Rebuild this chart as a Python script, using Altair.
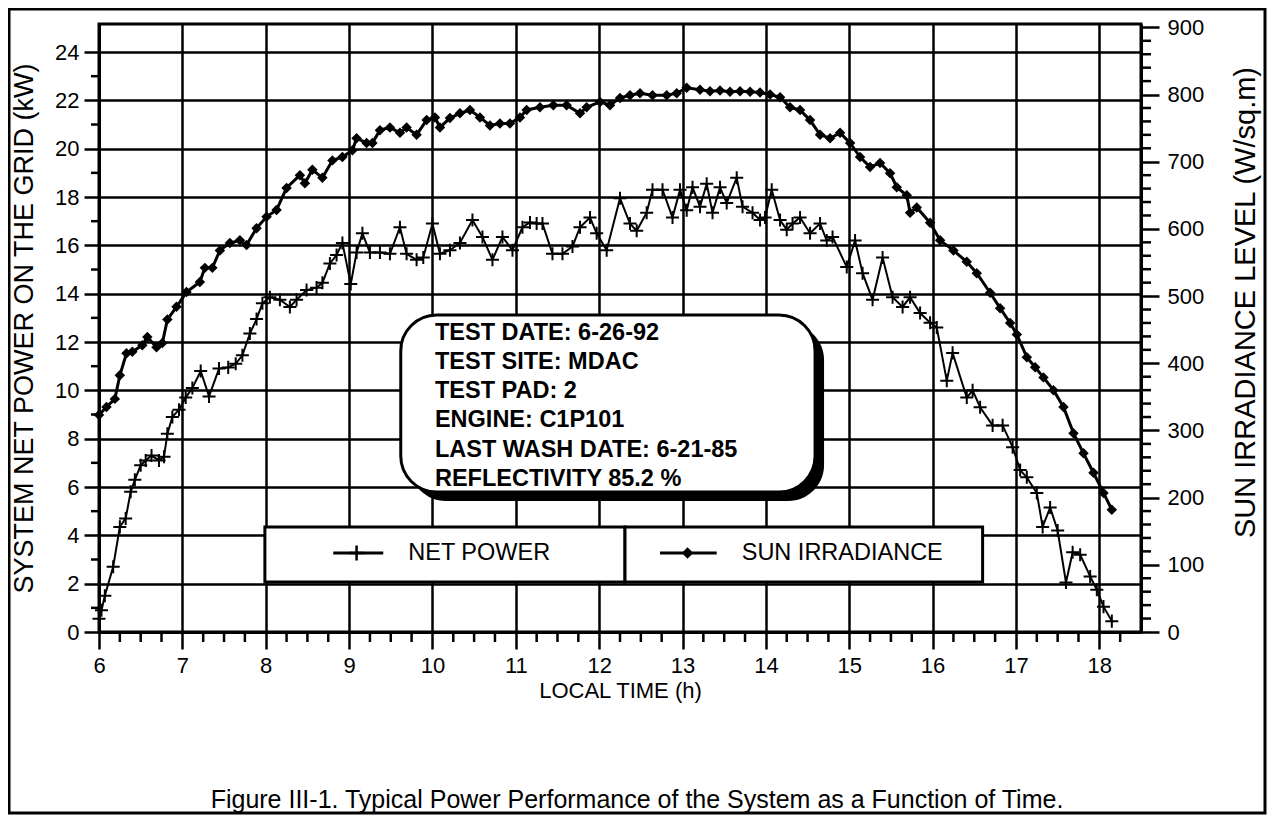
import altair as alt
import pandas as pd

# ---------------- data ----------------
np_time = [6.00, 6.03, 6.07, 6.17, 6.25, 6.32, 6.38, 6.43, 6.50, 6.56,
           6.63, 6.72, 6.78, 6.82, 6.88, 6.96, 7.04, 7.12, 7.22, 7.32,
           7.44, 7.55, 7.64, 7.72, 7.81, 7.89, 7.96, 8.05, 8.17, 8.29,
           8.37, 8.49, 8.61, 8.68, 8.77, 8.85, 8.92, 9.02, 9.09, 9.16,
           9.25, 9.37, 9.49, 9.61, 9.69, 9.81, 9.89, 10.00, 10.09, 10.21,
           10.33, 10.48, 10.60, 10.72, 10.84, 10.96, 11.08, 11.17, 11.25, 11.32,
           11.44, 11.56, 11.68, 11.77, 11.89, 11.97, 12.09, 12.25, 12.37, 12.45,
           12.57, 12.64, 12.76, 12.88, 12.97, 13.05, 13.12, 13.21, 13.29, 13.36,
           13.45, 13.53, 13.65, 13.72, 13.84, 13.93, 13.99, 14.07, 14.17, 14.25,
           14.32, 14.41, 14.53, 14.65, 14.73, 14.80, 14.97, 15.07, 15.16, 15.28,
           15.40, 15.52, 15.64, 15.73, 15.85, 15.97, 16.05, 16.17, 16.24, 16.41,
           16.48, 16.57, 16.72, 16.84, 16.96, 17.05, 17.13, 17.25, 17.32, 17.41,
           17.50, 17.60, 17.68, 17.77, 17.89, 17.97, 18.05, 18.15]
np_kw = [0.55, 0.9, 1.5, 2.7, 4.35, 4.7, 5.8, 6.3, 6.9, 7.1,
         7.3, 7.1, 7.25, 8.2, 8.9, 9.2, 9.7, 10.1, 10.8, 9.75,
         10.9, 10.95, 11.1, 11.45, 12.35, 12.95, 13.6, 13.85, 13.75, 13.45,
         13.75, 14.15, 14.25, 14.45, 15.25, 15.6, 16.1, 14.4, 15.7, 16.5,
         15.7, 15.7, 15.65, 16.75, 15.65, 15.4, 15.5, 16.9, 15.65, 15.8,
         16.1, 17.05, 16.35, 15.4, 16.35, 15.8, 16.75, 16.95, 16.9, 16.9,
         15.65, 15.65, 15.95, 16.75, 17.15, 16.5, 15.8, 17.95, 16.9, 16.6,
         17.35, 18.3, 18.3, 17.15, 18.3, 17.45, 18.4, 17.6, 18.55, 17.35,
         18.4, 17.75, 18.8, 17.6, 17.35, 17.05, 17.15, 18.3, 17.05, 16.65,
         16.9, 17.15, 16.5, 16.9, 16.2, 16.35, 15.1, 16.2, 14.85, 13.75,
         15.5, 13.85, 13.45, 13.85, 13.2, 12.8, 12.6, 10.4, 11.55, 9.7,
         10.0, 9.3, 8.55, 8.55, 7.65, 6.7, 6.4, 5.75, 4.35, 5.15,
         4.2, 2.05, 3.3, 3.2, 2.3, 1.75, 1.05, 0.45]

sun_time = [6.00, 6.09, 6.19, 6.25, 6.33, 6.40, 6.52, 6.58, 6.69, 6.76,
            6.82, 6.93, 7.05, 7.21, 7.27, 7.36, 7.45, 7.57, 7.69, 7.77,
            7.89, 8.01, 8.13, 8.25, 8.41, 8.47, 8.56, 8.68, 8.80, 8.92,
            9.04, 9.09, 9.21, 9.28, 9.37, 9.49, 9.61, 9.69, 9.81, 9.93,
            10.03, 10.09, 10.21, 10.33, 10.45, 10.57, 10.69, 10.81, 10.93, 11.05,
            11.13, 11.29, 11.45, 11.61, 11.77, 11.85, 12.01, 12.13, 12.25, 12.37,
            12.49, 12.64, 12.81, 12.93, 13.05, 13.21, 13.33, 13.45, 13.57, 13.69,
            13.81, 13.93, 14.05, 14.17, 14.29, 14.41, 14.53, 14.65, 14.77, 14.89,
            15.01, 15.13, 15.25, 15.37, 15.49, 15.57, 15.69, 15.73, 15.81, 15.97,
            16.09, 16.25, 16.41, 16.53, 16.69, 16.81, 16.93, 17.01, 17.13, 17.23,
            17.33, 17.45, 17.57, 17.69, 17.81, 17.93, 18.05, 18.15]
sun_wm2 = [323, 335, 347, 382, 415, 417, 427, 439, 424, 430,
           465, 484, 506, 521, 542, 542, 568, 579, 583, 576,
           601, 618, 628, 661, 680, 668, 688, 676, 702, 707,
           717, 735, 728, 728, 747, 751, 743, 751, 740, 762,
           766, 751, 765, 772, 777, 766, 754, 757, 757, 766,
           777, 781, 784, 784, 772, 781, 789, 784, 795, 799,
           802, 799, 799, 802, 810, 807, 805, 806, 804, 805,
           804, 803, 800, 796, 781, 777, 762, 740, 735, 743,
           728, 707, 692, 698, 683, 662, 650, 624, 632, 609,
           583, 568, 551, 534, 505, 482, 460, 443, 409, 394,
           379, 360, 335, 296, 266, 237, 207, 182]

x_ticks = list(range(6, 19))
kw_ticks = list(range(0, 25, 2))
irr_ticks = list(range(0, 901, 100))

info_lines = ["TEST DATE: 6-26-92", "TEST SITE: MDAC", "TEST PAD: 2",
              "ENGINE: C1P101", "LAST WASH DATE: 6-21-85", "REFLECTIVITY 85.2 %"]
legend_labels = ["NET POWER", "SUN IRRADIANCE"]
caption = "Figure III-1. Typical Power Performance of the System as a Function of Time."

# ---------------- layout / style ----------------
W, H = 1042, 608
FONT = "Liberation Sans"
CROSS = "M-1,0H1M0,-1V1"

X_DOM = [6, 18.5]
KW_DOM = [0, 25.16]
IRR_DOM = [0, 905]


def xs():
    return alt.Scale(domain=X_DOM, nice=False, zero=False)


def ys_kw():
    return alt.Scale(domain=KW_DOM, nice=False, zero=False)


def ys_irr():
    return alt.Scale(domain=IRR_DOM, nice=False, zero=False)


common = dict(tickColor="black", tickWidth=2.5, domainColor="black", domainWidth=3,
              labelFont=FONT, labelFontSize=22, labelColor="black",
              titleFont=FONT, titleFontWeight="normal", titleColor="black")

x_axis = alt.Axis(values=x_ticks, title="LOCAL TIME (h)", orient="bottom", grid=True,
                  gridColor="black", gridWidth=2.5, gridOpacity=1, tickSize=17,
                  labelPadding=6, titleFontSize=22, titlePadding=4, format="d",
                  labelFlush=False, **common)
kw_axis = alt.Axis(values=kw_ticks, title="SYSTEM NET POWER ON THE GRID (kW)", grid=True,
                   gridColor="black", gridWidth=2.5, gridOpacity=1, tickSize=15,
                   labelPadding=5, titleFontSize=27, titlePadding=16, format="d",
                   labelFlush=False, **common)
irr_axis = alt.Axis(values=irr_ticks, title="SUN IRRADIANCE LEVEL (W/sq.m)", orient="right",
                    grid=False, tickSize=18, labelPadding=8, titleFontSize=29,
                    titleAngle=270, titlePadding=57, titleY=278, format="d",
                    labelFlush=False, **common)


def X(f, ax=None):
    return alt.X(f, type="quantitative", scale=xs(), axis=ax)


def YK(f, ax=None):
    return alt.Y(f, type="quantitative", scale=ys_kw(), axis=ax)


def YI(f, ax=None):
    return alt.Y(f, type="quantitative", scale=ys_irr(), axis=ax)


np_df = pd.DataFrame({"t": np_time, "p": np_kw})
sun_df = pd.DataFrame({"t": sun_time, "s": sun_wm2})

# minor ticks
kw_minor = pd.DataFrame({"v": list(range(1, 25, 2))})
irr_minor = pd.DataFrame({"v": [v for v in range(20, 901, 20) if v % 100]})
x_minor = pd.DataFrame({"v": [6 + q / 4 for q in range(1, 50) if q % 4]})

one = pd.DataFrame({"a": [0]})

# annotation boxes (in data coordinates)
info_df = pd.DataFrame({"x1": [9.62], "x2": [14.59], "y1": [5.79], "y2": [13.12]})
info_txt = pd.DataFrame({"x": [10.03], "y": [12.39]})
leg_df = pd.DataFrame({"x1": [7.99, 12.31], "x2": [12.31, 16.60], "y1": [2.07, 2.07], "y2": [4.34, 4.34]})
leg_line = pd.DataFrame({"x1": [8.81, 12.73], "x2": [9.41, 13.41], "y": [3.27, 3.27]})
leg_cross = pd.DataFrame({"x": [9.09], "y": [3.27]})
leg_diam = pd.DataFrame({"x": [13.06], "y": [3.27]})
leg_txt = pd.DataFrame({"x": [9.71, 13.71], "y": [3.27, 3.27], "label": legend_labels})
cap_df = pd.DataFrame({"label": [caption]})

frame = alt.Chart(one).mark_rect(filled=False, stroke="black", strokeWidth=3).encode(
    x=alt.value(-90), x2=alt.value(W + 124), y=alt.value(-15), y2=alt.value(H + 181))
cap = alt.Chart(cap_df).mark_text(align="center", baseline="middle", font=FONT, fontSize=25,
                                  color="black").encode(
    x=alt.value(538), y=alt.value(776), text="label:N")

np_line = alt.Chart(np_df).mark_line(color="black", strokeWidth=2).encode(
    x=X("t", x_axis), y=YK("p", kw_axis))
np_pts = alt.Chart(np_df).mark_point(shape=CROSS, size=170, filled=False, color="black",
                                     strokeWidth=2, opacity=1).encode(x=X("t"), y=YK("p"))

kw_min = alt.Chart(kw_minor).mark_rule(color="black", strokeWidth=2.5).encode(
    y=YK("v"), x=alt.value(-8), x2=alt.value(0))
x_min = alt.Chart(x_minor).mark_rule(color="black", strokeWidth=2.5).encode(
    x=X("v"), y=alt.value(H), y2=alt.value(H + 10))

shadow = alt.Chart(info_df).mark_rect(color="black", cornerRadius=36, xOffset=9, x2Offset=9,
                                      yOffset=9, y2Offset=9).encode(
    x=X("x1"), x2="x2", y=YK("y1"), y2="y2")
box = alt.Chart(info_df).mark_rect(fill="white", stroke="black", strokeWidth=3,
                                   cornerRadius=36).encode(
    x=X("x1"), x2="x2", y=YK("y1"), y2="y2")
box_text = alt.Chart(info_txt).mark_text(text=info_lines, align="left", baseline="middle",
                                         lineHeight=29.3, font=FONT, fontSize=23.5,
                                         fontWeight="bold", color="black").encode(
    x=X("x"), y=YK("y"))

leg_box = alt.Chart(leg_df).mark_rect(fill="white", stroke="black", strokeWidth=3).encode(
    x=X("x1"), x2="x2", y=YK("y1"), y2="y2")
leg_rule = alt.Chart(leg_line).mark_rule(color="black", strokeWidth=3).encode(
    x=X("x1"), x2="x2", y=YK("y"))
leg_c = alt.Chart(leg_cross).mark_point(shape=CROSS, size=230, filled=False, color="black",
                                        strokeWidth=2.5, opacity=1).encode(x=X("x"), y=YK("y"))
leg_d = alt.Chart(leg_diam).mark_point(shape="diamond", size=130, filled=True, color="black",
                                       opacity=1).encode(x=X("x"), y=YK("y"))
leg_t = alt.Chart(leg_txt).mark_text(align="left", baseline="middle", font=FONT, fontSize=23.5,
                                     color="black").encode(x=X("x"), y=YK("y"), text="label:N")

sun_line = alt.Chart(sun_df).mark_line(color="black", strokeWidth=3).encode(
    x=X("t"), y=YI("s", irr_axis))
sun_pts = alt.Chart(sun_df).mark_point(shape="diamond", size=110, filled=True, color="black",
                                       opacity=1).encode(x=X("t"), y=YI("s"))
irr_min = alt.Chart(irr_minor).mark_rule(color="black", strokeWidth=2.5).encode(
    y=YI("v"), x=alt.value(W), x2=alt.value(W + 10))

chart = alt.layer(np_line, sun_line, frame, cap, kw_min, x_min, irr_min,
                  shadow, box, box_text, leg_box, leg_rule, leg_c, leg_d, leg_t,
                  sun_pts, np_pts).resolve_scale(y="independent").resolve_axis(
    x="independent").properties(
    width=W, height=H,
    autosize=alt.AutoSizeParams(type="none"),
    padding={"left": 91, "top": 16, "right": 126, "bottom": 183},
).configure(background="white").configure_view(stroke="black", strokeWidth=3)

chart.save("out.html", embed_options={"renderer": "svg", "actions": False})
